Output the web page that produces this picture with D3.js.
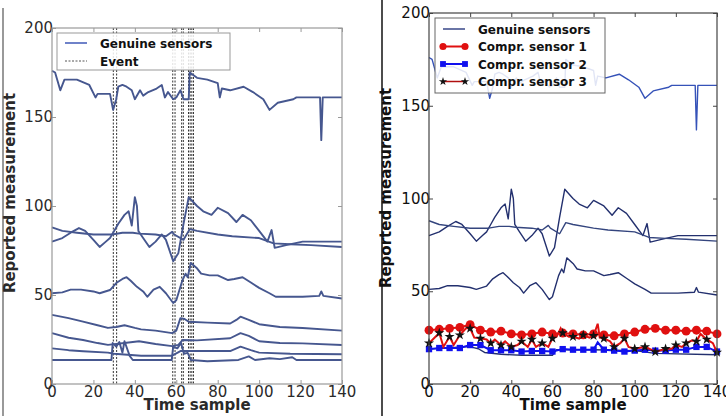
<html>
<script src="https://d3js.org/d3.v7.min.js"></script>
<body style="margin:0;background:#fff">
</body>
<script>
// tick labels
const xTicks = [0, 20, 40, 60, 80, 100, 120, 140];
const yTicks = [0, 50, 100, 150, 200];

// genuine sensors, [time sample, reported value]
const sensorTop = [[0,176],[1.5,175],[4,165],[6,171],[12,171],[18,168],[21,161],[22,163],[28,163],[29.5,154],[31,160],[32,167],[34,168],[36,167],[38.5,165],[40,160],[42.5,165],[44,162],[46.5,164],[50.5,166],[53,168],[54.5,161],[56,164],[58.5,160],[60,161],[62,165],[63.5,160],[66,160],[66.5,175],[70,172],[75,171],[80,169],[81,161],[82,166],[86,165],[92.5,167],[97,164],[102,160],[105,154],[109,158],[116.5,160],[118,161],[129.4,161],[130,137],[130.7,161],[140,161]];
const sensorHigh = [[0,80],[5,82],[9,85],[13,87.6],[16,86],[20,81],[23,77],[26,80],[28,82],[30,86],[32,90],[35,95],[37,97],[38.5,89],[40,105],[41,100],[41.7,86],[44,82],[47,77],[50,80],[53,84],[55,81],[58.5,69],[61,73.5],[63.5,90],[66,105],[70,100],[73,97],[77,95],[80,99],[85,96],[89,91],[92,95],[96,92],[100,86],[104,80],[106,86.5],[107.5,76.5],[113,78],[121,80],[140,80]];
const sensorMid = [[0,88],[5,86],[12,85],[20,84],[29,84],[34,85],[39,85],[42,84.5],[50,84],[55,83],[58,85.5],[59,84],[63.5,81],[66.5,87],[70,86],[80,84],[87,83],[100,82],[107,79],[115,78.5],[125,78],[140,77]];
const sensor50 = [[0,51],[5,51.5],[9,53],[14,53],[20,52],[23,51],[28,52.8],[31,56.7],[34,59],[36,60],[38,58],[41,54.6],[44,52],[46,49],[49,53],[52,54.6],[55,51],[58.5,45.5],[60,47],[63,58.4],[64.5,62],[65.5,60],[67,68],[70,65],[72,62],[76,61],[80,61],[85,58.4],[88,59],[92,60],[96,57],[100,54],[105,51],[108,49],[121,49],[129,49.5],[130,52],[131,49.5],[140,48]];
const sensor38 = [[0,38.8],[8,37],[15,35],[22,33],[27,31.5],[31,32],[35,33],[40,31.5],[43,30.7],[50,30],[58,28.6],[60,30],[62,37],[64,36.5],[66,35],[75,34.5],[86,34],[89,36],[91,37.8],[95,36],[100,33.6],[110,32],[121,31.5],[140,30]];
const sensor28 = [[0,28.6],[8,26],[15,24.7],[22,23],[27,22],[35,23],[42,24],[50,22.5],[58,21.3],[61,22],[63,24.7],[70,24.5],[86,25.7],[91,28.6],[95,27],[100,24],[110,23],[121,22.8],[140,21.9]];
const sensor20 = [[0,20],[8,19],[15,18.4],[27,17.6],[30,17],[43,15.9],[58,15.9],[62,18.5],[70,18.5],[86,18.5],[91,21],[96,19],[100,17.6],[115,17],[140,16.7]];
const sensor14 = [[0,13.5],[28.7,13.5],[29.3,23],[31,21],[32.5,23.6],[34,17.6],[35,24],[37.5,15.8],[39,13.5],[57.8,13.5],[58.5,21],[60.5,20],[62.3,23],[63.7,17],[65.5,17.5],[67,13.5],[75,12.8],[90,13.5],[95,15.5],[98,13.5],[105,14.5],[110,14],[116,15],[118,13.5],[140,13.5]];
const sensorLowRight = [[0,18.8],[10,19.5],[15,20],[20,20],[24,19],[27,17],[35,16],[45,15.5],[60,15.5],[62,18.5],[80,18.5],[100,18],[110,16.5],[140,15.8]];

// compromised sensors
const compr1 = [[0,29],[5,29.5],[10,30],[15,30.5],[20,32],[25,29],[30,28],[35,28.5],[40,27],[45,26.5],[50,27],[55,28],[60,27],[65,27.5],[70,27],[75,26.5],[80,27],[85,26.5],[90,26],[95,27],[100,28],[105,29.5],[110,30],[115,29],[120,29],[125,28.5],[130,29],[135,28.5],[140,27]];
const compr2 = [[0,18.8],[5,19.4],[10,19.4],[15,19.4],[20,21],[25,21],[30,18.2],[35,18.2],[40,18.2],[45,17.5],[50,17.8],[55,17.8],[60,17.5],[65,18.8],[70,18.5],[75,18.5],[80,18.5],[82,22.5],[85,18.5],[90,18],[95,17.5],[100,18],[105,18.5],[110,18],[115,18],[120,18.5],[125,18.5],[130,20],[135,20],[140,17.5]];
const compr3 = [[0,22],[5,27.5],[7,20],[10,25.5],[12,21],[15,26.4],[18,30],[20,30],[22,25],[25,24.6],[28,24],[30,22],[32,24],[35,21],[37,23],[40,20],[43,21],[45,23],[48,20],[50,24],[52,20],[55,22],[58,20],[60,24.6],[62,25.5],[64,30],[65,27.5],[68,25.5],[70,25.5],[73,24.5],[75,26.4],[78,25],[80,26],[82,32.5],[83,25],[85,24.6],[88,23],[90,20],[93,22],[95,24.6],[97,20],[100,19],[105,20],[108,18.5],[110,17.3],[115,19],[118,19],[120,21],[123,20],[125,22],[128,23.5],[130,23],[132,27],[135,24],[138,22],[140,17]];

// event times
const events = [29.6, 31.2, 58.3, 59.4, 62.6, 63.4, 65.9, 66.7, 67.5, 68.3];

let width = 726, height = 416;
let svg = d3.select("body").append("svg")
    .attr("width", width)
    .attr("height", height)
    .style("font-family", "DejaVu Sans");

// outer frame lines
svg.append("line").attr("x1", 3).attr("x2", 3).attr("y1", 8).attr("y2", height)
    .attr("stroke", "#999").attr("stroke-width", 2);
svg.append("line").attr("x1", 382).attr("x2", 382).attr("y1", 0).attr("y2", height)
    .attr("stroke", "#111").attr("stroke-width", 1.5);

function drawPanel(p) {
    let x = d3.scaleLinear().domain([0, 140]).range([p.left, p.right]);
    let y = d3.scaleLinear().domain([0, 200]).range([p.bottom, p.top]);
    let g = svg.append("g");

    // tick marks inside the box
    g.append("g").attr("transform", `translate(0,${p.bottom})`)
        .call(d3.axisTop(x).tickValues(xTicks).tickSize(4).tickFormat(""))
        .call(a => a.selectAll("line").attr("stroke", p.frame))
        .call(a => a.select(".domain").remove());
    g.append("g").attr("transform", `translate(0,${p.top})`)
        .call(d3.axisBottom(x).tickValues(xTicks).tickSize(4).tickFormat(""))
        .call(a => a.selectAll("line").attr("stroke", p.frame))
        .call(a => a.select(".domain").remove());
    g.append("g").attr("transform", `translate(${p.left},0)`)
        .call(d3.axisRight(y).tickValues(yTicks).tickSize(4).tickFormat(""))
        .call(a => a.selectAll("line").attr("stroke", p.frame))
        .call(a => a.select(".domain").remove());
    g.append("g").attr("transform", `translate(${p.right},0)`)
        .call(d3.axisLeft(y).tickValues(yTicks).tickSize(4).tickFormat(""))
        .call(a => a.selectAll("line").attr("stroke", p.frame))
        .call(a => a.select(".domain").remove());

    // tick labels
    g.selectAll(".xl").data(xTicks).join("text")
        .attr("x", d => x(d)).attr("y", p.bottom + 13)
        .attr("text-anchor", "middle").attr("font-size", 15).attr("fill", p.text)
        .text(d => d);
    g.selectAll(".yl").data(yTicks).join("text")
        .attr("x", p.left + 1).attr("y", d => y(d) + 5)
        .attr("text-anchor", "end").attr("font-size", 15).attr("fill", p.text)
        .text(d => d);

    // axis titles
    g.append("text").attr("x", (p.left + p.right) / 2).attr("y", 410)
        .attr("text-anchor", "middle").attr("font-size", 15).attr("font-weight", "bold")
        .attr("fill", p.text).text("Time sample");
    g.append("text").attr("transform", `translate(${p.ylabX},${p.ylabY}) rotate(-90)`)
        .attr("text-anchor", "middle").attr("font-size", 15).attr("font-weight", "bold")
        .attr("fill", p.text).text("Reported measurement");

    let line = d3.line().x(d => x(d[0])).y(d => y(d[1]));

    // events
    if (p.events) {
        g.selectAll(".ev").data(p.events).join("line")
            .attr("x1", d => x(d)).attr("x2", d => x(d))
            .attr("y1", p.top).attr("y2", p.bottom)
            .attr("stroke", "#333").attr("stroke-width", 1)
            .attr("stroke-dasharray", "2,1.5");
    }

    // genuine sensors
    g.selectAll(".gen").data(p.genuine).join("path")
        .attr("d", d => line(d.data))
        .attr("fill", "none")
        .attr("stroke", d => d.color)
        .attr("stroke-width", p.lineWidth)
        .attr("stroke-linejoin", "round");

    // compromised sensors
    (p.compr || []).forEach(s => {
        g.append("path").attr("d", line(s.data))
            .attr("fill", "none").attr("stroke", s.color).attr("stroke-width", 2);
        let marks = s.data.filter(d => d[0] % 5 === 0);
        g.selectAll(null).data(marks).join("path")
            .attr("transform", d => `translate(${x(d[0])},${y(d[1])})`)
            .attr("d", d3.symbol().type(s.symbol).size(s.size))
            .attr("fill", s.markColor);
    });

    // frame
    g.append("rect").attr("x", p.left).attr("y", p.top)
        .attr("width", p.right - p.left).attr("height", p.bottom - p.top)
        .attr("fill", "none").attr("stroke", p.frame).attr("stroke-width", 1.2);

    // legend
    let lg = g.append("g");
    lg.append("rect").attr("x", p.legend.x).attr("y", p.legend.y)
        .attr("width", p.legend.w).attr("height", p.legend.h)
        .attr("fill", "#fff").attr("fill-opacity", 0.85)
        .attr("stroke", p.legend.stroke).attr("stroke-width", 1);
    p.legend.items.forEach((it, i) => {
        let yy = p.legend.y + p.legend.first + i * p.legend.step;
        let lx = p.legend.x + 8;
        lg.append("line").attr("x1", lx).attr("x2", lx + 22).attr("y1", yy).attr("y2", yy)
            .attr("stroke", it.color).attr("stroke-width", it.width || 2)
            .attr("stroke-dasharray", it.dash || null);
        if (it.symbol) {
            [lx, lx + 22].forEach(mx => lg.append("path")
                .attr("transform", `translate(${mx},${yy})`)
                .attr("d", d3.symbol().type(it.symbol).size(it.size))
                .attr("fill", it.markColor));
        }
        lg.append("text").attr("x", lx + 35).attr("y", yy + 4.5)
            .attr("font-size", 12).attr("font-weight", "bold").attr("fill", "#111")
            .text(it.label);
    });
}

const leftColor = "#46578f";
drawPanel({
    left: 52, right: 342, top: 28, bottom: 384,
    frame: "#9a9a9a", text: "#2a2a2a", lineWidth: 1.9,
    ylabX: 15, ylabY: 193,
    events: events,
    genuine: [sensorTop, sensorHigh, sensorMid, sensor50, sensor38, sensor28, sensor20, sensor14]
        .map(d => ({data: d, color: leftColor})),
    legend: {x: 57, y: 33, w: 173, h: 37, first: 10, step: 18, stroke: "#999",
        items: [
            {label: "Genuine sensors", color: "#6f82c9"},
            {label: "Event", color: "#555", width: 1, dash: "2,1.5"}
        ]}
});

const rightColor = "#23306e";
drawPanel({
    left: 429, right: 717, top: 13, bottom: 384,
    frame: "#444", text: "#111", lineWidth: 1.4,
    ylabX: 391, ylabY: 188,
    genuine: [
        {data: sensorTop, color: "#3552b8"},
        {data: sensorHigh, color: rightColor},
        {data: sensorMid, color: "#34457e"},
        {data: sensor50, color: rightColor},
        {data: sensorLowRight, color: rightColor}
    ],
    compr: [
        {data: compr2, color: "#1010ee", symbol: d3.symbolSquare, size: 40, markColor: "#1010ee"},
        {data: compr1, color: "#e01010", symbol: d3.symbolCircle, size: 62, markColor: "#e01010"},
        {data: compr3, color: "#e01010", symbol: d3.symbolStar, size: 32, markColor: "#111"}
    ],
    legend: {x: 435, y: 18, w: 170, h: 75, first: 11, step: 17.5, stroke: "#666",
        items: [
            {label: "Genuine sensors", color: "#2a3a80", width: 1.4},
            {label: "Compr. sensor 1", color: "#e01010", symbol: d3.symbolCircle, size: 40, markColor: "#e01010"},
            {label: "Compr. sensor 2", color: "#1010ee", symbol: d3.symbolSquare, size: 34, markColor: "#1010ee"},
            {label: "Compr. sensor 3", color: "#b01010", width: 1.5, symbol: d3.symbolStar, size: 22, markColor: "#111"}
        ]}
});
</script>
</html>
